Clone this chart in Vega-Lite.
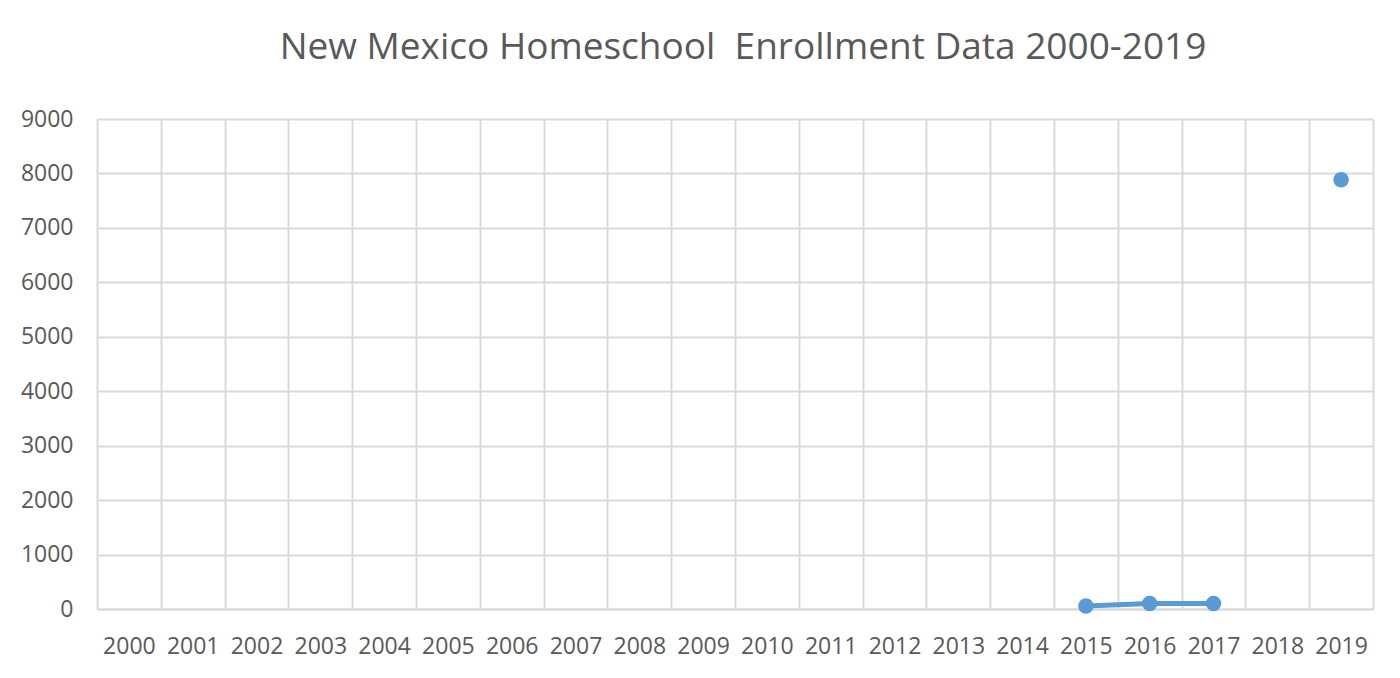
{
  "$schema": "https://vega.github.io/schema/vega-lite/v6.json",
  "autosize": {"type": "none"},
  "padding": {"left": 97, "top": 119, "right": 27, "bottom": 69},
  "width": 1276,
  "height": 490,
  "background": "white",
  "title": {
    "text": "New Mexico Homeschool\u00a0 Enrollment Data 2000-2019",
    "font": "Open Sans",
    "fontSize": 37,
    "fontWeight": "normal",
    "color": "#595959",
    "anchor": "middle",
    "dx": 8,
    "offset": 41
  },
  "config": {
    "view": {"stroke": null},
    "axis": {
      "labelFont": "Open Sans",
      "labelFontSize": 23,
      "labelColor": "#595959",
      "gridColor": "#d9d9d9",
      "gridWidth": 2,
      "domainColor": "#d9d9d9",
      "domainWidth": 2,
      "ticks": false,
      "title": null
    }
  },
  "data": {
    "values": [
      {"Year": "2000", "Enrollment": null},
      {"Year": "2001", "Enrollment": null},
      {"Year": "2002", "Enrollment": null},
      {"Year": "2003", "Enrollment": null},
      {"Year": "2004", "Enrollment": null},
      {"Year": "2005", "Enrollment": null},
      {"Year": "2006", "Enrollment": null},
      {"Year": "2007", "Enrollment": null},
      {"Year": "2008", "Enrollment": null},
      {"Year": "2009", "Enrollment": null},
      {"Year": "2010", "Enrollment": null},
      {"Year": "2011", "Enrollment": null},
      {"Year": "2012", "Enrollment": null},
      {"Year": "2013", "Enrollment": null},
      {"Year": "2014", "Enrollment": null},
      {"Year": "2015", "Enrollment": 55},
      {"Year": "2016", "Enrollment": 100},
      {"Year": "2017", "Enrollment": 100},
      {"Year": "2018", "Enrollment": null},
      {"Year": "2019", "Enrollment": 7885}
    ]
  },
  "encoding": {
    "x": {
      "field": "Year",
      "type": "ordinal",
      "bandPosition": 0.5,
      "scale": {"type": "band", "paddingInner": 0, "paddingOuter": 0},
      "axis": {"labelAngle": 0, "labelPadding": 26, "tickBand": "extent", "grid": true}
    },
    "y": {
      "field": "Enrollment",
      "type": "quantitative",
      "scale": {"domain": [0, 9000], "nice": false},
      "axis": {"values": [0, 1000, 2000, 3000, 4000, 5000, 6000, 7000, 8000, 9000], "format": "d", "labelPadding": 24, "domain": false}
    }
  },
  "layer": [
    {
      "mark": {"type": "line", "color": "#5b9bd5", "strokeWidth": 5}
    },
    {
      "mark": {"type": "point", "filled": true, "color": "#5b9bd5", "size": 240, "opacity": 1}
    }
  ]
}
